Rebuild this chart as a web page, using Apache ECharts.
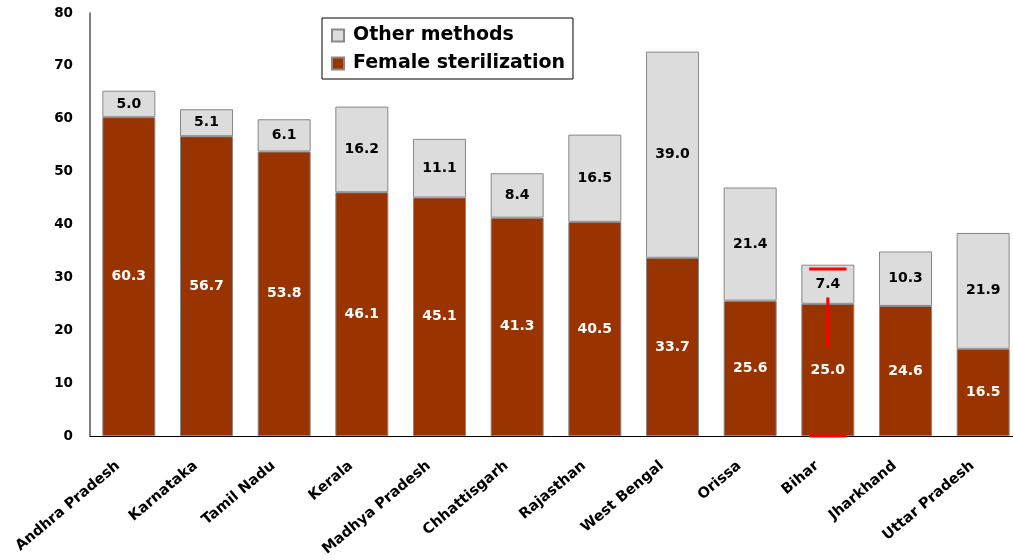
<!DOCTYPE html>
<html><head><meta charset="utf-8">
<script src="https://cdn.jsdelivr.net/npm/echarts@6/dist/echarts.min.js"></script>
<style>html,body{margin:0;padding:0;background:#fff;overflow:hidden}#c{width:1013px;height:560px}</style>
</head><body><div id="c"></div>
<script>
const categories = ['Andhra Pradesh','Karnataka','Tamil Nadu','Kerala','Madhya Pradesh','Chhattisgarh','Rajasthan','West Bengal','Orissa','Bihar','Jharkhand','Uttar Pradesh'];
const femaleSterilization = [60.3,56.7,53.8,46.1,45.1,41.3,40.5,33.7,25.6,25.0,24.6,16.5];
const otherMethods = [5.0,5.1,6.1,16.2,11.1,8.4,16.5,39.0,21.4,7.4,10.3,21.9];
const yTicks = [0,10,20,30,40,50,60,70,80];
// red annotation marks on Bihar: [categoryIndex, valueFrom, valueTo, kind]
const annotations = [[9,31.6,31.6,'h'],[9,26.2,16.8,'v'],[9,0,0,'h']];

const font = '"DejaVu Sans", sans-serif';
const chart = echarts.init(document.getElementById('c'), null, {renderer:'canvas'});
chart.setOption({
  animation:false,
  grid:{left:90,right:-9,top:13,bottom:124,containLabel:false,outerBoundsMode:'none'},
  legend:{
    data:['Other methods','Female sterilization'],
    orient:'vertical', left:322, top:18,
    borderColor:'#000', borderWidth:1, padding:[8,8,6,9],
    icon:'rect', itemWidth:12, itemHeight:12, itemGap:9,
    textStyle:{fontFamily:font, fontWeight:'bold', fontSize:19, color:'#000', padding:[0,0,0,4]}
  },
  xAxis:{
    type:'category', data:categories,
    axisLine:{lineStyle:{color:'#000',width:1}},
    axisTick:{show:false},
    axisLabel:{rotate:40, interval:0, fontFamily:font, fontWeight:'bold', fontSize:14.5, color:'#000', margin:19, padding:[0,14,0,0]}
  },
  yAxis:{
    type:'value', min:yTicks[0], max:yTicks[yTicks.length-1], interval:10,
    splitLine:{show:false},
    axisLine:{show:true, lineStyle:{color:'#555',width:1.5}},
    axisTick:{show:false},
    axisLabel:{fontFamily:font, fontWeight:'bold', fontSize:13.5, color:'#000', margin:17, padding:[7,0,0,0]}
  },
  series:[
    {name:'Female sterilization', type:'bar', stack:'t', barWidth:53, data:femaleSterilization,
     itemStyle:{color:'#993300', borderColor:'#888', borderWidth:1},
     label:{show:true, position:'inside', formatter:p=>p.value.toFixed(1), fontFamily:font, fontWeight:'bold', fontSize:14, color:'#fff'}},
    {name:'Other methods', type:'bar', stack:'t', barWidth:53, data:otherMethods,
     itemStyle:{color:'#dcdcdc', borderColor:'#888', borderWidth:1},
     label:{show:true, position:'inside', formatter:p=>p.value.toFixed(1), fontFamily:font, fontWeight:'bold', fontSize:14, color:'#000'}},
    {type:'custom', data:annotations, z:10, silent:true,
     renderItem:function(params, api){
       const idx = api.value(0), a = api.value(1), b = api.value(2);
       const kind = annotations[params.dataIndex][3];
       const p1 = api.coord([idx, a]), p2 = api.coord([idx, b]);
       const bw = api.size([1,0])[0];
       const half = bw*0.24;
       if (kind === 'h') {
         return {type:'line', shape:{x1:p1[0]-half, y1:p1[1], x2:p1[0]+half, y2:p1[1]}, style:{stroke:'#ff0000', lineWidth:3}};
       }
       return {type:'line', shape:{x1:p1[0], y1:p1[1], x2:p2[0], y2:p2[1]}, style:{stroke:'#ff0000', lineWidth:3}};
     }}
  ]
});
</script></body></html>
